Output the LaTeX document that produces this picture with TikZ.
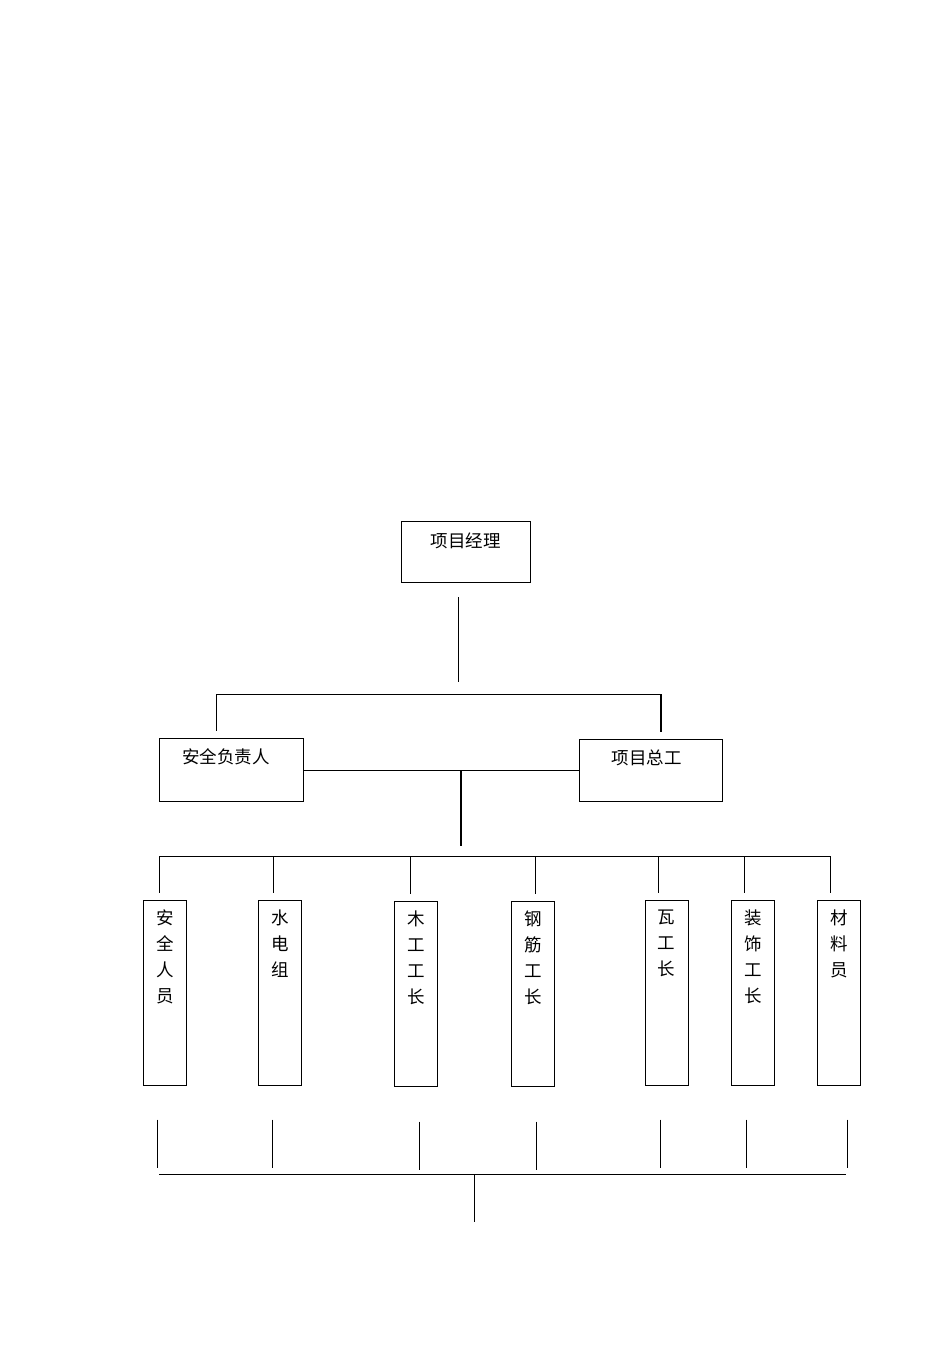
\documentclass[tikz,border=0pt]{standalone}
\usepackage{fontspec}
\newfontfamily\cjk{Noto Sans CJK SC}
\usetikzlibrary{positioning}
\tikzset{
  box/.style={draw, line width=1pt, inner sep=0pt},
  bar/.style={draw, line width=1pt, inner sep=0pt, minimum width=43pt, minimum height=185pt},
  word/.style={inner sep=0pt, align=center},
  wire/.style={line width=0.9pt},
  heavy/.style={line width=2pt},
}
\begin{document}
\begin{tikzpicture}[x=1pt, y=-1pt, font=\cjk\fontsize{17.5}{26}\selectfont]
\useasboundingbox (0,0) rectangle (950,1345);
% top level
\node[box, minimum width=129pt, minimum height=61pt] (pm) at (465.5,551.5) {};
\node[word, below=12pt of pm.north] {项目经理};
\node[box, minimum width=144pt, minimum height=63pt] (safety) at (231,769.5) {};
\node[word, below=11pt of safety.north, xshift=-5pt] {安全负责人};
\node[box, minimum width=143pt, minimum height=62pt] (chief) at (650.5,770) {};
\node[word, below=11pt of chief.north, xshift=-4pt] {项目总工};
% trades
\node[bar] (b1) at (165,992.5) {};
\node[word, below=10pt of b1.north] {安\\全\\人\\员};
\node[bar] (b2) at (280,992.5) {};
\node[word, below=10pt of b2.north] {水\\电\\组};
\node[bar] (b3) at (416,993.5) {};
\node[word, below=10pt of b3.north] {木\\工\\工\\长};
\node[bar] (b4) at (533,993.5) {};
\node[word, below=10pt of b4.north] {钢\\筋\\工\\长};
\node[bar] (b5) at (666.5,992.5) {};
\node[word, below=10pt of b5.north] {瓦\\工\\长};
\node[bar] (b6) at (753,992.5) {};
\node[word, below=10pt of b6.north] {装\\饰\\工\\长};
\node[bar] (b7) at (839,992.5) {};
\node[word, below=10pt of b7.north] {材\\料\\员};
% junctions
\coordinate (pm-out) at (458,597);
\coordinate (pm-end) at (458,682);
\coordinate (busL) at (216,694);
\coordinate (busR) at (661,694);
\coordinate (mid) at (461,770);
\coordinate (midEnd) at (461,846);
\coordinate (bus2L) at (159,856);
\coordinate (bus2R) at (830,856);
\coordinate (bus3L) at (159,1174);
\coordinate (bus3R) at (846,1174);
\coordinate (bus3M) at (474,1174);
\coordinate (foot) at (474,1222);
% connectors
\draw[wire] (pm-out) -- (pm-end);
\draw[wire] ([yshift=7pt]safety.north -| busL) -- (busL) -- (busR);
\draw[heavy] (busR) -- ([yshift=7pt]chief.north -| busR);
\draw[wire] (safety.east |- mid) -- (chief.west |- mid);
\draw[heavy] (mid) -- (midEnd);
\draw[wire] (bus2L) -- (bus2R);
\foreach \b/\x in {b1/159, b2/273, b3/410, b4/535, b5/658, b6/744, b7/830}
  \draw[wire] (\x,856) -- ([yshift=7pt]\b.north -| \x,0);
\foreach \b/\x/\s in {b1/157/34, b2/272/34, b3/419/35, b4/536/35, b5/660/34, b6/746/34, b7/847/34}
  \draw[wire] ([yshift=-\s pt]\b.south -| \x,0) -- ++(0,48);
\draw[wire] (bus3L) -- (bus3R);
\draw[wire] (bus3M) -- (foot);
\end{tikzpicture}
\end{document}
